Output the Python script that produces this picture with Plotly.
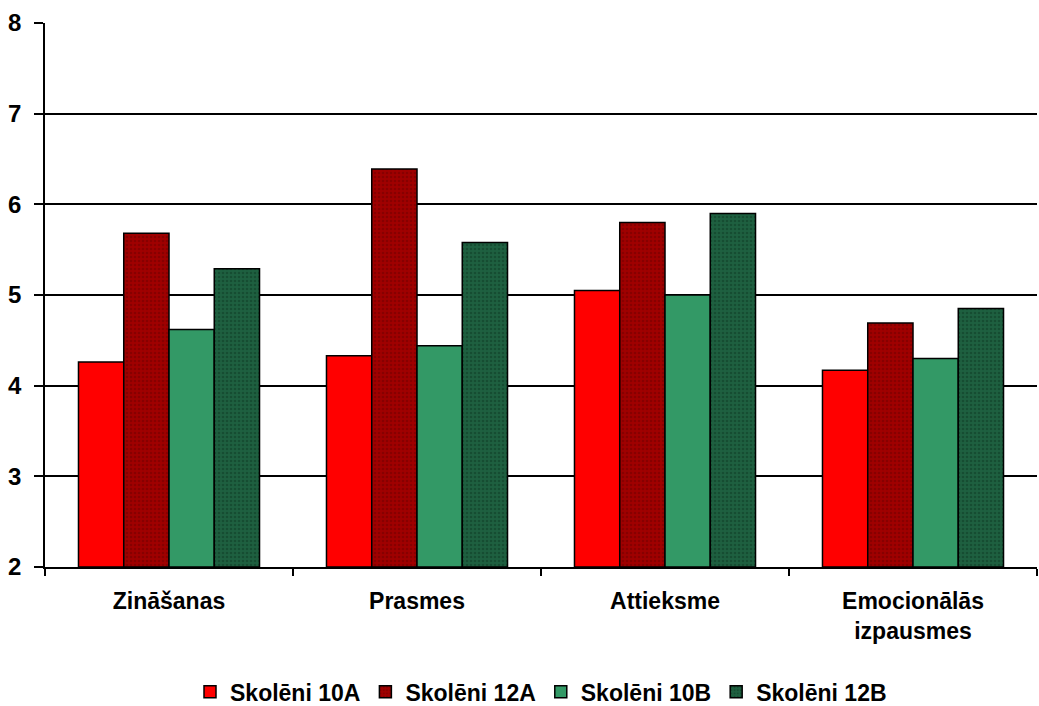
import plotly.graph_objects as go

categories = ["Zinā\u0161anas", "Prasmes", "Attieksme", "Emocion\u0101l\u0101s<br>izpausmes"]
series_names = ["Skol\u0113ni 10A", "Skol\u0113ni 12A", "Skol\u0113ni 10B", "Skol\u0113ni 12B"]
values_10a = [4.26, 4.33, 5.05, 4.17]
values_12a = [5.68, 6.39, 5.80, 4.69]
values_10b = [4.62, 4.44, 5.00, 4.30]
values_12b = [5.29, 5.58, 5.90, 4.85]
y_ticks = [2, 3, 4, 5, 6, 7, 8]

series_values = [values_10a, values_12a, values_10b, values_12b]
fill_colors = ["#FF0000", "#A00000", "#339966", "#1E6040"]
dot_colors = [None, "#6E0000", None, "#0E3A24"]

FONT = "Liberation Sans, Arial, sans-serif"

fig = go.Figure()
for name, vals, col, dot in zip(series_names, series_values, fill_colors, dot_colors):
    marker = dict(color=col, line=dict(color="black", width=1.5))
    if dot:
        marker["pattern"] = dict(shape=".", fgcolor=dot, bgcolor=col,
                                 size=4, solidity=0.35, fillmode="overlay")
    fig.add_trace(go.Bar(
        x=categories, y=[v - 2 for v in vals], base=2,
        name=name, marker=marker,
        hovertemplate="%{x}: %{customdata}<extra>" + name + "</extra>",
        customdata=vals,
    ))

fig.update_layout(
    width=1039, height=706,
    barmode="group", bargap=0.27, bargroupgap=0,
    plot_bgcolor="white", paper_bgcolor="white",
    margin=dict(l=45, r=2, t=23, b=139, autoexpand=False),
    font=dict(family=FONT, size=21, color="black"),
    legend=dict(orientation="h", x=0.5, xanchor="center",
                yref="container", y=0.02, yanchor="middle",
                font=dict(family=FONT, size=23, color="black", weight="bold"),
                itemwidth=30, traceorder="normal", tracegroupgap=0),
    showlegend=True,
)
fig.update_xaxes(
    showline=True, linecolor="black", linewidth=1.5,
    ticks="outside", tickson="boundaries", ticklen=7, tickcolor="black", tickwidth=1.5,
    tickfont=dict(family=FONT, size=23, color="black", weight="bold"),
    ticklabelstandoff=13,
    showgrid=False,
)
fig.update_yaxes(
    range=[2, 8], tickvals=y_ticks,
    showline=True, linecolor="black", linewidth=1.5,
    ticks="outside", ticklen=9, tickcolor="black", tickwidth=1.5,
    showgrid=True, gridcolor="black", gridwidth=1.5,
    tickfont=dict(family=FONT, size=24, color="black", weight="bold"),
    ticklabelstandoff=8,
    zeroline=False,
)

fig.write_html("out.html")
